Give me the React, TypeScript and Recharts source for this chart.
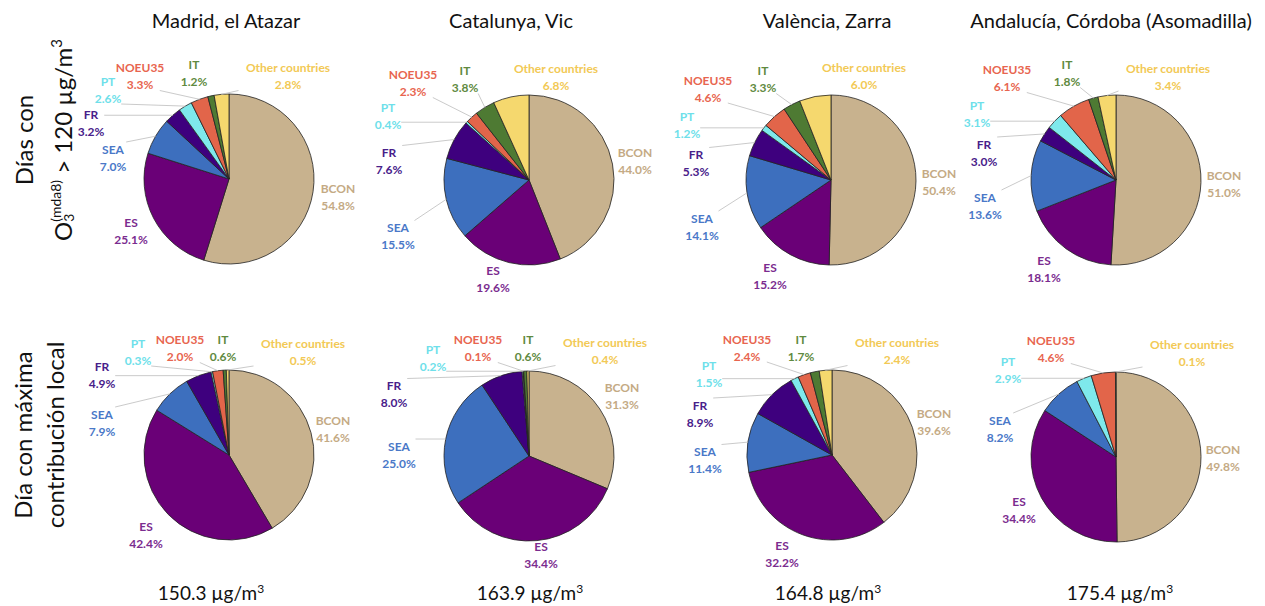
import { PieChart, Pie, Cell } from "recharts";

const categories = ["BCON", "ES", "SEA", "FR", "PT", "NOEU35", "IT", "Other countries"];

// Días con O3(mda8) > 120 µg/m3
const madridHigh = [54.8, 25.1, 7.0, 3.2, 2.6, 3.3, 1.2, 2.8];
const vicHigh = [44.0, 19.6, 15.5, 7.6, 0.4, 2.3, 3.8, 6.8];
const zarraHigh = [50.4, 15.2, 14.1, 5.3, 1.2, 4.6, 3.3, 6.0];
const asomadillaHigh = [51.0, 18.1, 13.6, 3.0, 3.1, 6.1, 1.8, 3.4];

// Día con máxima contribución local
const madridLocal = [41.6, 42.4, 7.9, 4.9, 0.3, 2.0, 0.6, 0.5];
const vicLocal = [31.3, 34.4, 25.0, 8.0, 0.2, 0.1, 0.6, 0.4];
const zarraLocal = [39.6, 32.2, 11.4, 8.9, 1.5, 2.4, 1.7, 2.4];
const asomadillaLocal = [49.8, 34.4, 8.2, 0, 2.9, 4.6, 0, 0.1];

const stations = ["Madrid, el Atazar", "Catalunya, Vic", "València, Zarra", "Andalucía, Córdoba (Asomadilla)"];
const peakValues = ["150.3", "163.9", "164.8", "175.4"];

const sliceColors = ["#C8B28E", "#6A0077", "#3D6FBE", "#3E007E", "#7EE9EC", "#E2654A", "#4E7A33", "#F5D86E"];
const labelColors = ["#C4AA84", "#7B2C8F", "#4A78C8", "#48208A", "#6EDFEA", "#E8654F", "#5F8A3F", "#F2C955"];

// layout: panel edges per row
const panelX = [
  [0, 360, 662, 960, 1265],
  [0, 360, 655, 962, 1265],
];
const rowTop = [0, 300];
const rowHeight = [300, 270];
const topCenters = [[224, 174], [524, 175], [826, 175], [1111, 175]];
const bottomCenters = [[224, 450], [524, 451], [827, 450], [1111, 452]];
const titleX = [226, 511, 827, 1111];
const peakX = [211, 530, 828, 1120];

// label block centres, relative to the pie centre (Excel best-fit placement)
const topSpots = [
  [[109, 17.5], [-98, 51.5], [-116, -22], [-138, -56.5], [-121, -90], [-89, -103.5], [-35, -106.5], [59, -103.5]],
  [[106, -19.5], [-36, 98.5], [-131, 55.5], [-140, -19.5], [-141, -65], [-116, -97.5], [-64, -101.5], [27, -104]],
  [[108, 1], [-61, 95], [-129, 46], [-135, -17.5], [-144, -56], [-123, -92], [-68, -101.5], [33, -104.5]],
  [[108, 3.5], [-72, 88.5], [-131, 25], [-132, -28], [-139, -66.5], [-109, -102.5], [-49, -107.5], [52, -104]],
];
const bottomSpots = [
  [[104, -26.5], [-83, 79], [-127, -33], [-127, -81], [-91, -104], [-49, -107.5], [-6, -107.5], [74, -104]],
  [[93, -60.5], [12, 98.5], [-130, -2], [-135, -62.5], [-96, -98.5], [-51, -108.5], [-1, -109], [76, -105.5]],
  [[102, -33.5], [-50, 98.5], [-127, 4.5], [-132, -42], [-123, -81.5], [-85, -108], [-31, -108], [65, -104.5]],
  [[107, 0], [-97, 52], [-116, -29], [0, 0], [-108, -88], [-65, -108.5], [0, 0], [76, -105]],
];

const RAD = Math.PI / 180;
const RADIUS = 85;

function makeLabel(spots: number[][]) {
  return (props: any) => {
    const { cx, cy, midAngle, outerRadius, index, value } = props;
    if (!value) return <g />;
    const [dx, dy] = spots[index];
    const lx = cx + dx;
    const ly = cy + dy;
    const name = categories[index];
    const pct = `${Number(value).toFixed(1)}%`;
    const hw = Math.max(name.length, pct.length) * 3.3;
    const hh = 15;
    const px = cx + outerRadius * Math.cos(-midAngle * RAD);
    const py = cy + outerRadius * Math.sin(-midAngle * RAD);
    const ex = Math.min(Math.max(px, lx - hw), lx + hw);
    const ey = Math.min(Math.max(py, ly - hh), ly + hh);
    const showLine = Math.hypot(ex - px, ey - py) > 12;
    return (
      <g>
        {showLine && <line x1={px} y1={py} x2={ex} y2={ey} stroke="#c4c4c4" strokeWidth={0.9} />}
        <text x={lx} y={ly - 8} textAnchor="middle" dominantBaseline="central" fill={labelColors[index]} fontWeight={700} fontSize={12} fontFamily="Lato">
          {name}
        </text>
        <text x={lx} y={ly + 9} textAnchor="middle" dominantBaseline="central" fill={labelColors[index]} fontWeight={700} fontSize={12} fontFamily="Lato">
          {pct}
        </text>
      </g>
    );
  };
}

function SourcePie({ values, col, row, center, spots }: { values: number[]; col: number; row: number; center: number[]; spots: number[][] }) {
  const left = panelX[row][col];
  const width = panelX[row][col + 1] - left;
  const top = rowTop[row];
  const data = categories.map((name, i) => ({ name, value: values[i] }));
  return (
    <div style={{ position: "absolute", left, top, width, height: rowHeight[row] }}>
      <PieChart width={width} height={rowHeight[row]}>
        <Pie
          data={data}
          dataKey="value"
          cx={center[0] - left}
          cy={center[1] - top}
          outerRadius={RADIUS}
          startAngle={90}
          endAngle={-270}
          stroke="#222"
          strokeWidth={0.8}
          labelLine={false}
          label={makeLabel(spots)}
          isAnimationActive={false}
        >
          {data.map((d, i) => (
            <Cell key={d.name} fill={sliceColors[i]} stroke="#222" strokeWidth={0.8} />
          ))}
        </Pie>
      </PieChart>
    </div>
  );
}

const highRows = [madridHigh, vicHigh, zarraHigh, asomadillaHigh];
const localRows = [madridLocal, vicLocal, zarraLocal, asomadillaLocal];

export default function App() {
  return (
    <div style={{ position: "absolute", left: 0, top: 0, width: 1265, height: 606, background: "#fff", fontFamily: "Lato", color: "#111", overflow: "hidden" }}>
      {highRows.map((v, i) => (
        <SourcePie key={`h${i}`} values={v} col={i} row={0} center={topCenters[i]} spots={topSpots[i]} />
      ))}
      {localRows.map((v, i) => (
        <SourcePie key={`l${i}`} values={v} col={i} row={1} center={bottomCenters[i]} spots={bottomSpots[i]} />
      ))}

      {stations.map((s, i) => (
        <div key={s} style={{ position: "absolute", left: titleX[i], top: 20, transform: "translate(-50%, -50%)", whiteSpace: "nowrap", fontSize: 20 }}>
          {s}
        </div>
      ))}

      {peakValues.map((p, i) => (
        <div key={p} style={{ position: "absolute", left: peakX[i], top: 592, transform: "translate(-50%, -50%)", whiteSpace: "nowrap", fontSize: 19 }}>
          {p} µg/m<sup style={{ fontSize: 12, verticalAlign: "7px" }}>3</sup>
        </div>
      ))}

      <div style={{ position: "absolute", left: 40 - 150, top: 140 - 32, width: 300, height: 64, transform: "rotate(-90deg)", textAlign: "center", fontSize: 24, lineHeight: "32px", whiteSpace: "nowrap" }}>
        <div>Días con</div>
        <div>
          O
          <span style={{ display: "inline-flex", flexDirection: "column", verticalAlign: "11px", fontSize: 14, lineHeight: "13px", textAlign: "left" }}>
            <span>(mda8)</span>
            <span>3</span>
          </span>{" "}
          &gt; 120 µg/m<sup style={{ fontSize: 15, verticalAlign: "10px" }}>3</sup>
        </div>
      </div>

      <div style={{ position: "absolute", left: 39 - 150, top: 435 - 32, width: 300, height: 64, transform: "rotate(-90deg)", textAlign: "center", fontSize: 24, lineHeight: "32px", whiteSpace: "nowrap" }}>
        <div>Día con máxima</div>
        <div>contribución local</div>
      </div>
    </div>
  );
}
